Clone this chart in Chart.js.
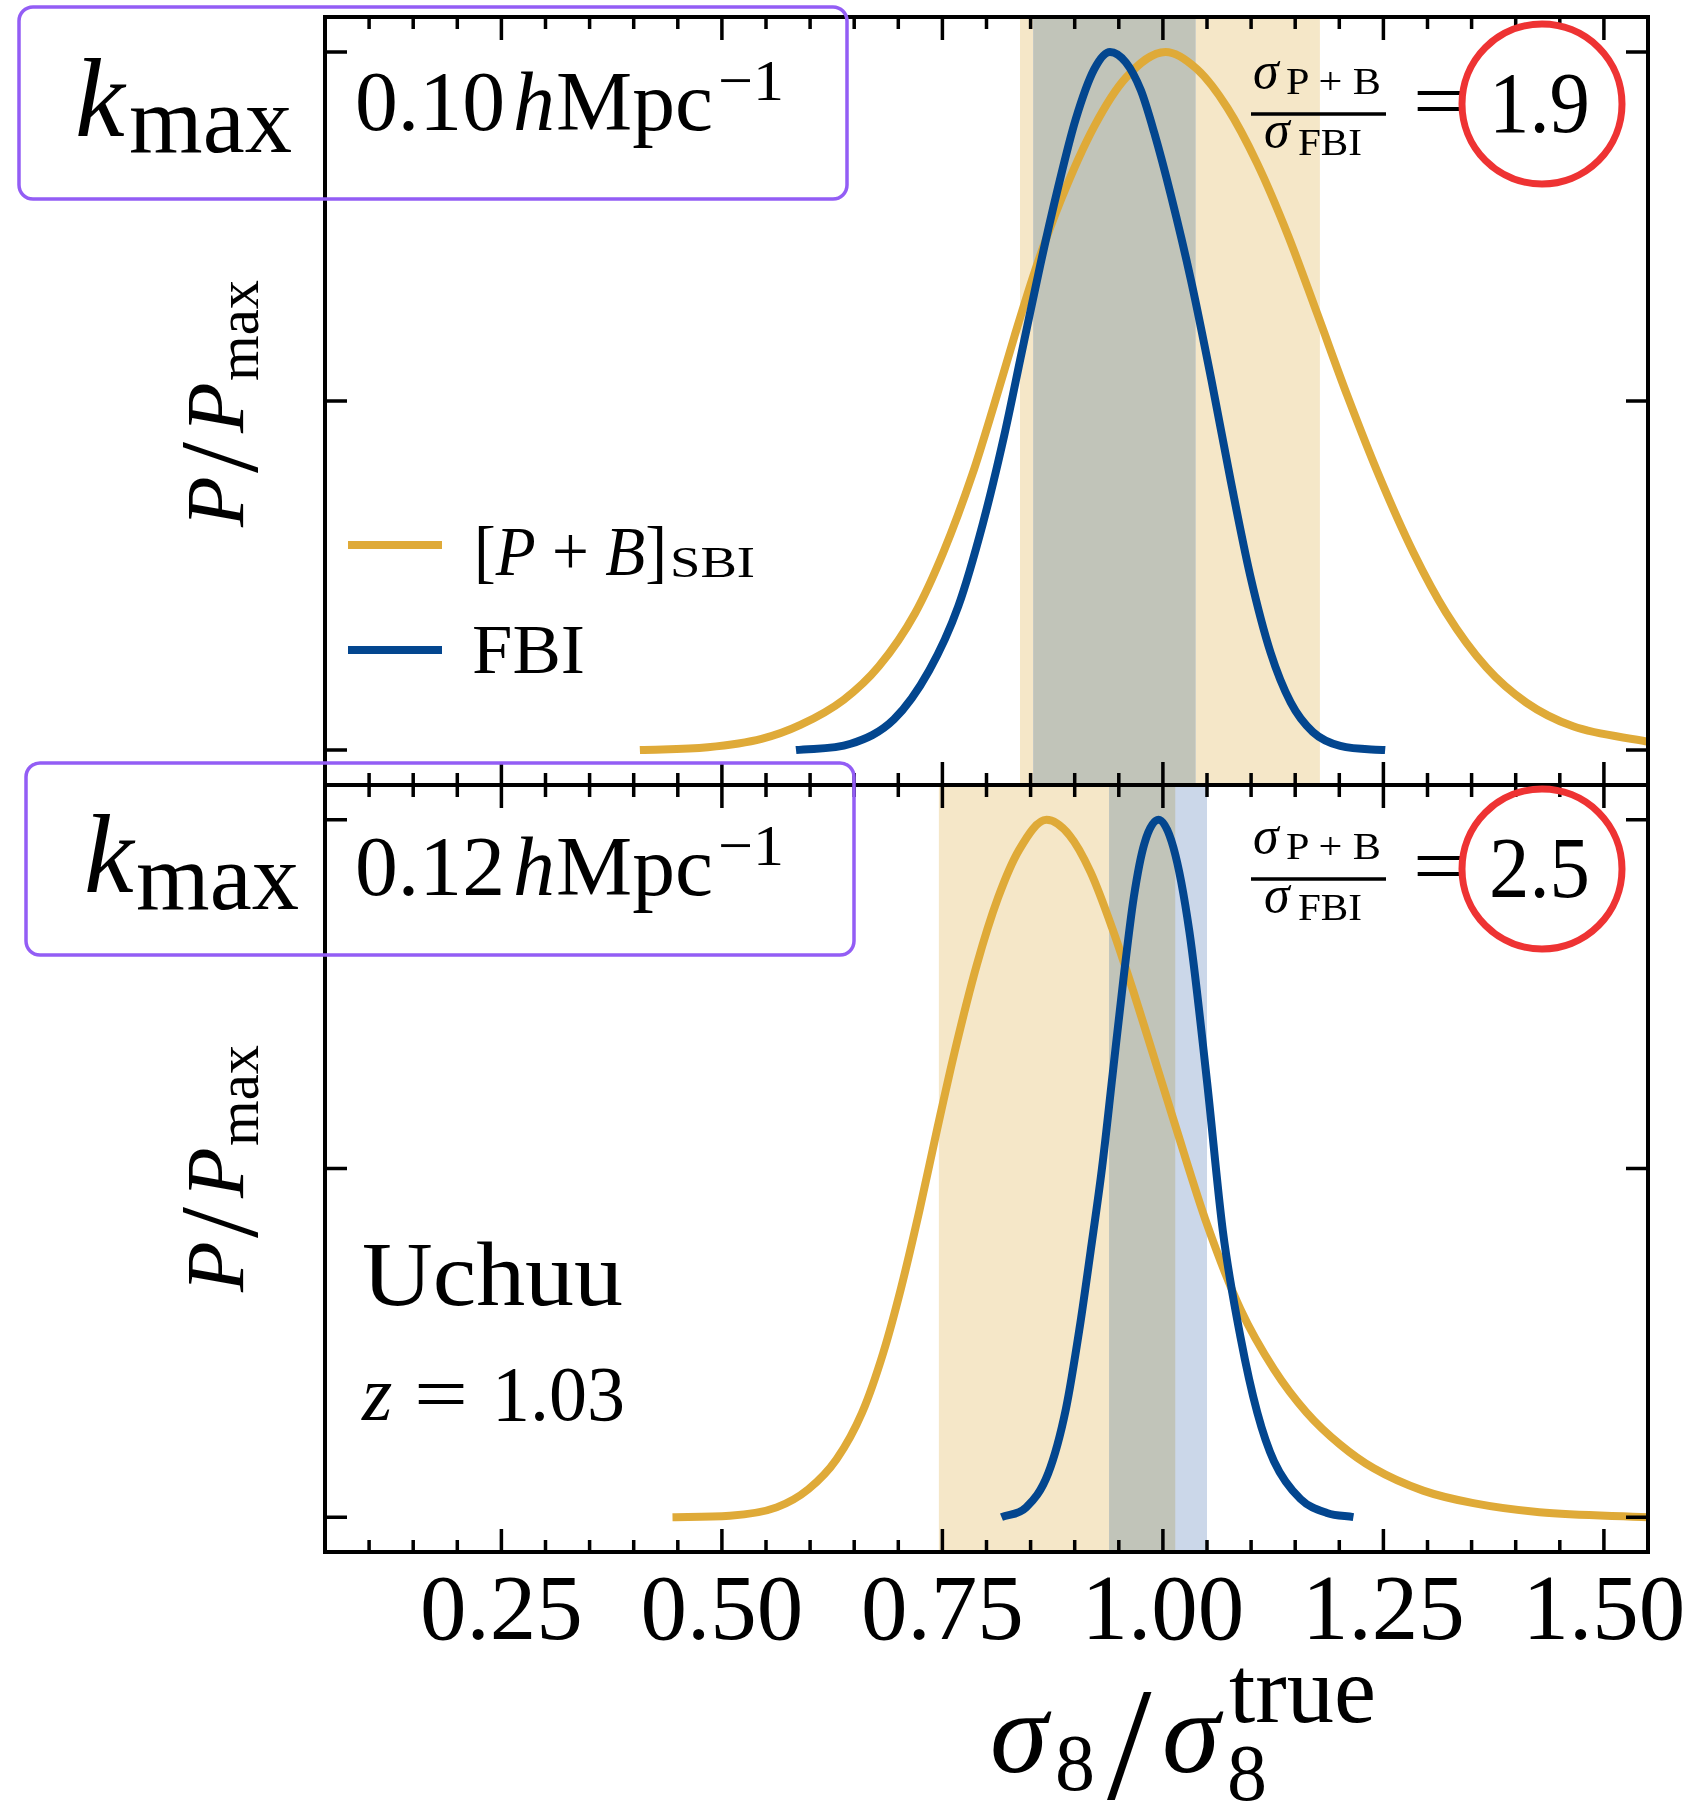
<!DOCTYPE html>
<html>
<head>
<meta charset="utf-8">
<script src="https://cdn.jsdelivr.net/npm/chart.js@4.4.1/dist/chart.umd.min.js"></script>
<style>
html,body{margin:0;padding:0;background:#fff;width:1699px;height:1803px;overflow:hidden;}
#wrap{position:relative;width:1699px;height:1803px;}
canvas{position:absolute;left:0;}
#cTop{top:0;width:1699px;height:800px;}
#cBot{top:768px;width:1699px;height:1035px;}
#ov{position:absolute;left:0;top:0;pointer-events:none;}
#ov text{font-family:"Liberation Serif","Times New Roman",serif;fill:#000;}
</style>
</head>
<body>
<div id="wrap">
<canvas id="cTop" width="1699" height="800"></canvas>
<canvas id="cBot" width="1699" height="1035"></canvas>
<svg id="ov" width="1699" height="1803" viewBox="0 0 1699 1803" xmlns="http://www.w3.org/2000/svg">
  <!-- ===== top panel annotations ===== -->
  <text x="75" y="136" font-size="112" font-style="italic">k</text>
  <text x="129" y="152" font-size="95" textLength="163" lengthAdjust="spacingAndGlyphs">max</text>
  <text x="355" y="130" font-size="84" textLength="150" lengthAdjust="spacingAndGlyphs">0.10</text>
  <text x="513" y="130" font-size="84" font-style="italic">h</text>
  <text x="556" y="130" font-size="84" textLength="157" lengthAdjust="spacingAndGlyphs">Mpc</text>
  <text x="718" y="100" font-size="58" textLength="66" lengthAdjust="spacingAndGlyphs">−1</text>
  <rect x="19" y="7" width="828" height="192" rx="14" ry="14" fill="none" stroke="#935DF5" stroke-width="3.5"/>

  <text x="1253" y="88" font-size="52" font-style="italic">σ</text>
  <text x="1286" y="94" font-size="37" textLength="95" lengthAdjust="spacingAndGlyphs">P + B</text>
  <line x1="1251" y1="114" x2="1386" y2="114" stroke="#000" stroke-width="3.5"/>
  <text x="1264" y="147" font-size="52" font-style="italic">σ</text>
  <text x="1298" y="155" font-size="37" textLength="64" lengthAdjust="spacingAndGlyphs">FBI</text>
  <text x="1413" y="128" font-size="80" textLength="53" lengthAdjust="spacingAndGlyphs">=</text>
  <text x="1489" y="132" font-size="86" textLength="101" lengthAdjust="spacingAndGlyphs">1.9</text>
  <ellipse cx="1542" cy="104" rx="80" ry="80" fill="none" stroke="#EE3333" stroke-width="7"/>

  <line x1="348" y1="545" x2="442" y2="545" stroke="#DFAA38" stroke-width="8"/>
  <line x1="348" y1="650" x2="442" y2="650" stroke="#03468F" stroke-width="8"/>
  <text x="474" y="575" font-size="70" textLength="193" lengthAdjust="spacingAndGlyphs">[<tspan font-style="italic">P</tspan> + <tspan font-style="italic">B</tspan>]</text>
  <text x="670" y="577" font-size="45" textLength="85" lengthAdjust="spacingAndGlyphs">SBI</text>
  <text x="472" y="673" font-size="70" textLength="113" lengthAdjust="spacingAndGlyphs">FBI</text>

  <g transform="translate(243,527) rotate(-90)">
    <text x="0" y="0" font-size="83" font-style="italic">P</text>
    <text x="54" y="14" font-size="112">/</text>
    <text x="94" y="0" font-size="83" font-style="italic">P</text>
    <text x="146" y="15" font-size="60" textLength="101" lengthAdjust="spacingAndGlyphs">max</text>
  </g>

  <!-- ===== bottom panel annotations ===== -->
  <text x="84" y="892" font-size="112" font-style="italic">k</text>
  <text x="136" y="909" font-size="95" textLength="163" lengthAdjust="spacingAndGlyphs">max</text>
  <text x="355" y="895" font-size="84" textLength="150" lengthAdjust="spacingAndGlyphs">0.12</text>
  <text x="513" y="895" font-size="84" font-style="italic">h</text>
  <text x="556" y="895" font-size="84" textLength="157" lengthAdjust="spacingAndGlyphs">Mpc</text>
  <text x="718" y="865" font-size="58" textLength="66" lengthAdjust="spacingAndGlyphs">−1</text>
  <rect x="26" y="763" width="828" height="192" rx="14" ry="14" fill="none" stroke="#935DF5" stroke-width="3.5"/>

  <text x="1253" y="853" font-size="52" font-style="italic">σ</text>
  <text x="1286" y="859" font-size="37" textLength="95" lengthAdjust="spacingAndGlyphs">P + B</text>
  <line x1="1251" y1="879" x2="1386" y2="879" stroke="#000" stroke-width="3.5"/>
  <text x="1264" y="912" font-size="52" font-style="italic">σ</text>
  <text x="1298" y="920" font-size="37" textLength="64" lengthAdjust="spacingAndGlyphs">FBI</text>
  <text x="1413" y="893" font-size="80" textLength="53" lengthAdjust="spacingAndGlyphs">=</text>
  <text x="1489" y="897" font-size="86" textLength="101" lengthAdjust="spacingAndGlyphs">2.5</text>
  <ellipse cx="1542" cy="869" rx="80" ry="80" fill="none" stroke="#EE3333" stroke-width="7"/>

  <text x="362" y="1305" font-size="90" textLength="261" lengthAdjust="spacingAndGlyphs">Uchuu</text>
  <text x="362" y="1420" font-size="78" font-style="italic">z</text>
  <text x="414" y="1420" font-size="78" textLength="54" lengthAdjust="spacingAndGlyphs">=</text>
  <text x="492" y="1420" font-size="78" textLength="133" lengthAdjust="spacingAndGlyphs">1.03</text>

  <g transform="translate(243,1292) rotate(-90)">
    <text x="0" y="0" font-size="83" font-style="italic">P</text>
    <text x="54" y="14" font-size="112">/</text>
    <text x="94" y="0" font-size="83" font-style="italic">P</text>
    <text x="146" y="15" font-size="60" textLength="101" lengthAdjust="spacingAndGlyphs">max</text>
  </g>

  <!-- ===== x axis title ===== -->
  <text x="990" y="1772" font-size="117" font-style="italic">σ</text>
  <text x="1055" y="1790" font-size="80">8</text>
  <text x="1107" y="1798" font-size="160">/</text>
  <text x="1162" y="1772" font-size="117" font-style="italic">σ</text>
  <text x="1227" y="1800" font-size="80">8</text>
  <text x="1229" y="1722" font-size="95" textLength="147" lengthAdjust="spacingAndGlyphs">true</text>
</svg>
</div>
<script>
// ---------- axis ranges & ticks ----------
const X_MIN = 0.05, X_MAX = 1.55;
const Y_MIN = -0.05, Y_MAX = 1.05;
const xTickValues = [0.25, 0.50, 0.75, 1.00, 1.25, 1.50];
const xTickLabels = ['0.25', '0.50', '0.75', '1.00', '1.25', '1.50'];
const xMinorStep = 0.05;
const yTickValues = [0, 0.5, 1];

// ---------- top panel: kmax = 0.10 h/Mpc ----------
const topSbiX = [0.407,0.484,0.545,0.589,0.638,0.678,0.719,0.751,0.784,0.808,0.832,0.857,0.885,0.922,0.958,1.003,1.039,1.073,1.107,1.141,1.175,1.209,1.246,1.284,1.321,1.367,1.412,1.465,1.550];
const topSbiY = [0.000,0.004,0.016,0.036,0.072,0.120,0.196,0.283,0.395,0.492,0.594,0.694,0.790,0.893,0.963,1.000,0.975,0.920,0.840,0.740,0.625,0.508,0.390,0.283,0.197,0.118,0.068,0.034,0.012];
const topFbiX = [0.584,0.646,0.695,0.735,0.768,0.796,0.820,0.840,0.861,0.881,0.901,0.922,0.940,0.958,0.975,0.990,1.009,1.032,1.055,1.077,1.099,1.122,1.145,1.170,1.201,1.252];
const topFbiY = [0.000,0.009,0.044,0.114,0.206,0.325,0.450,0.570,0.695,0.805,0.903,0.975,1.000,0.985,0.945,0.885,0.795,0.672,0.530,0.385,0.250,0.140,0.068,0.026,0.006,0.000];
const topSbiBand = [0.838, 1.178];
const topFbiBand = [0.853, 1.037];

// ---------- bottom panel: kmax = 0.12 h/Mpc ----------
const botSbiX = [0.444,0.509,0.562,0.598,0.630,0.659,0.683,0.703,0.724,0.744,0.764,0.789,0.813,0.837,0.868,0.894,0.918,0.943,0.967,0.991,1.013,1.050,1.088,1.126,1.163,1.201,1.239,1.295,1.352,1.427,1.550];
const botSbiY = [0.000,0.002,0.014,0.040,0.083,0.150,0.236,0.328,0.440,0.556,0.668,0.792,0.888,0.957,1.000,0.978,0.925,0.843,0.752,0.655,0.566,0.420,0.298,0.212,0.150,0.104,0.070,0.038,0.020,0.007,0.000];
const botFbiX = [0.817,0.845,0.870,0.890,0.906,0.918,0.931,0.943,0.955,0.967,0.979,0.995,1.012,1.030,1.050,1.068,1.088,1.107,1.126,1.156,1.186,1.216];
const botFbiY = [0.000,0.014,0.063,0.155,0.275,0.381,0.501,0.635,0.769,0.889,0.966,1.000,0.960,0.840,0.625,0.410,0.258,0.150,0.080,0.026,0.006,0.000];
const botSbiBand = [0.746, 1.014];
const botFbiBand = [0.939, 1.050];

// ---------- styles ----------
const SBI_COLOR = '#DFAA38';
const FBI_COLOR = '#03468F';
const SBI_BAND = '#F5E7C8';
const FBI_BAND = '#CBD7E9';
const OVERLAP_BAND = '#C1C4B9';
const FONT = '"Liberation Serif", "Times New Roman", serif';

Chart.defaults.font.family = FONT;
Chart.defaults.color = '#000';

function pts(xs, ys) { return xs.map((x, i) => ({ x: x, y: ys[i] })); }

const decor = {
  id: 'decor',
  beforeDatasetsDraw(chart, args, opts) {
    const { ctx, chartArea: a, scales: { x } } = chart;
    const px = v => x.getPixelForValue(v);
    const h = a.bottom - a.top;
    ctx.save();
    const s = opts.sbiBand, f = opts.fbiBand;
    ctx.fillStyle = SBI_BAND;
    ctx.fillRect(px(s[0]), a.top, px(s[1]) - px(s[0]), h);
    ctx.fillStyle = FBI_BAND;
    ctx.fillRect(px(f[0]), a.top, px(f[1]) - px(f[0]), h);
    const o0 = Math.max(s[0], f[0]), o1 = Math.min(s[1], f[1]);
    if (o1 > o0) {
      ctx.fillStyle = OVERLAP_BAND;
      ctx.fillRect(px(o0), a.top, px(o1) - px(o0), h);
    }
    ctx.restore();
  },
  afterDatasetsDraw(chart) {
    const { ctx, chartArea: a, scales: { x, y } } = chart;
    ctx.save();
    ctx.strokeStyle = '#000';
    ctx.lineCap = 'butt';
    ctx.lineWidth = 3.5;
    ctx.beginPath();
    const n = Math.round((X_MAX - X_MIN) / xMinorStep);
    for (let i = 1; i < n; i++) {
      const v = X_MIN + i * xMinorStep;
      const major = xTickValues.some(t => Math.abs(t - v) < 1e-6);
      const len = major ? 23 : 12;
      const p = x.getPixelForValue(v);
      ctx.moveTo(p, a.top); ctx.lineTo(p, a.top + len);
      ctx.moveTo(p, a.bottom); ctx.lineTo(p, a.bottom - len);
    }
    yTickValues.forEach(v => {
      const p = y.getPixelForValue(v);
      ctx.moveTo(a.left, p); ctx.lineTo(a.left + 22, p);
      ctx.moveTo(a.right, p); ctx.lineTo(a.right - 22, p);
    });
    ctx.stroke();
    ctx.lineWidth = 4;
    ctx.strokeRect(a.left, a.top, a.right - a.left, a.bottom - a.top);
    ctx.restore();
  }
};

function lineDs(label, data, color) {
  return {
    label: label, data: data, borderColor: color, backgroundColor: color,
    borderWidth: 8, pointRadius: 0, pointHoverRadius: 0, fill: false,
    cubicInterpolationMode: 'monotone', borderCapStyle: 'butt'
  };
}

function makeChart(id, sbi, fbi, sbiBand, fbiBand, showLabels, pad) {
  const xScale = {
    type: 'linear', min: X_MIN, max: X_MAX, display: showLabels,
    grid: { display: false, drawTicks: false },
    border: { display: false }
  };
  if (showLabels) {
    xScale.afterBuildTicks = s => { s.ticks = xTickValues.map(v => ({ value: v })); };
    xScale.ticks = {
      padding: 7, color: '#000', maxRotation: 0, minRotation: 0, autoSkip: false,
      font: { family: FONT, size: 93, lineHeight: 1.2 },
      callback: (v, i) => xTickLabels[i]
    };
    xScale.afterFit = s => { s.height = 125; };
  }
  return new Chart(document.getElementById(id), {
    type: 'line',
    data: {
      datasets: [
        lineDs('FBI', fbi, FBI_COLOR),
        lineDs('[P+B]_SBI', sbi, SBI_COLOR)
      ]
    },
    options: {
      responsive: false, animation: false, devicePixelRatio: 1, events: [],
      layout: { padding: pad },
      plugins: { legend: { display: false }, tooltip: { enabled: false },
                 decor: { sbiBand: sbiBand, fbiBand: fbiBand } },
      scales: {
        x: xScale,
        y: { type: 'linear', min: Y_MIN, max: Y_MAX, display: false }
      }
    },
    plugins: [decor]
  });
}

makeChart('cTop', pts(topSbiX, topSbiY), pts(topFbiX, topFbiY), topSbiBand, topFbiBand, false,
          { left: 325, right: 51, top: 17, bottom: 15 });
makeChart('cBot', pts(botSbiX, botSbiY), pts(botFbiX, botFbiY), botSbiBand, botFbiBand, true,
          { left: 325, right: 51, top: 17, bottom: 126 });
</script>
</body>
</html>
